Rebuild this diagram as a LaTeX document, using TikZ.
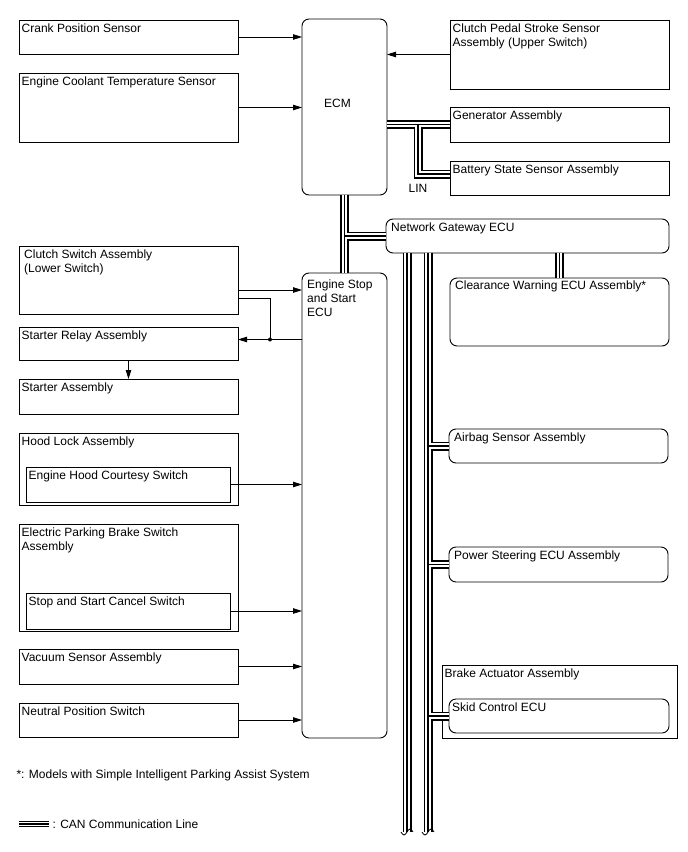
\documentclass[tikz,border=0pt]{standalone}
\usepackage{fontspec}
\setmainfont{Liberation Sans}
\usetikzlibrary{arrows.meta, calc}

\begin{document}
\begin{tikzpicture}[x=1bp, y=-1bp,
    font=\fontsize{12bp}{14bp}\selectfont,
    blk/.style={rectangle, draw, line width=0.9bp, outer sep=0pt, inner sep=0pt,
                minimum width=219bp, minimum height=#1},
    ecu/.style={blk=#1, rounded corners=7bp},
    txt/.style={anchor=north west, align=left, inner xsep=2.5bp, inner ysep=3.5bp},
    txtr/.style={txt, inner xsep=5bp},
    arrow/.style={-{Triangle[length=9bp, width=5.5bp]}, line width=0.8bp},
    wire/.style={line width=0.8bp},
    can/.style={draw=white, line width=5.5bp, preaction={draw=black, line width=9bp},
                postaction={draw=black, line width=1.6bp}},
    canlg/.style={draw=white, line width=3.4bp, preaction={draw=black, line width=6.5bp},
                postaction={draw=black, line width=1.2bp}},
    cut/.style={line width=0.8bp}
  ]
  \useasboundingbox (0,0) rectangle (688,852);

  % left column
  \node[blk=34bp, label={[txt]north west:Crank Position Sensor}] (crank) at (128.5,37) {};
  \node[blk=69bp, label={[txt]north west:Engine Coolant Temperature Sensor}] (coolant) at (128.5,107.5) {};
  \node[blk=68bp, label={[txt, inner xsep=5bp]north west:Clutch Switch Assembly\\(Lower Switch)}] (clutchsw) at (128.5,280) {};
  \node[blk=33bp, label={[txt]north west:Starter Relay Assembly}] (relay) at (128.5,343.5) {};
  \node[blk=35bp, label={[txt]north west:Starter Assembly}] (starter) at (128.5,396.5) {};
  \node[blk=72bp, label={[txt]north west:Hood Lock Assembly}] (hood) at (128.5,469) {};
  \node[blk=35bp, minimum width=204bp, label={[txt]north west:Engine Hood Courtesy Switch}] (hoodsw) at (128,484.5) {};
  \node[blk=107bp, label={[txt]north west:Electric Parking Brake Switch\\Assembly}] (epb) at (128.5,577.5) {};
  \node[blk=36bp, minimum width=204bp, label={[txt]north west:Stop and Start Cancel Switch}] (cancel) at (128,611) {};
  \node[blk=35bp, label={[txt]north west:Vacuum Sensor Assembly}] (vacuum) at (128.5,666.5) {};
  \node[blk=34bp, label={[txt]north west:Neutral Position Switch}] (neutral) at (128.5,720) {};

  % ECUs in the middle
  \node[ecu=176bp, minimum width=85bp, label={[xshift=-7bp, yshift=4bp]center:ECM}] (ecm) at (344.5,107) {};
  \node[ecu=465bp, minimum width=85bp, label={[txtr, inner ysep=7bp]north west:Engine Stop\\and Start\\ECU}] (ess) at (344.5,505.5) {};

  % right column
  \node[blk=69bp, label={[txt]north west:Clutch Pedal Stroke Sensor\\Assembly (Upper Switch)}] (cpss) at (559.5,54.5) {};
  \node[blk=35bp, label={[txt]north west:Generator Assembly}] (gen) at (559.5,124.5) {};
  \node[blk=34bp, label={[txt]north west:Battery State Sensor Assembly}] (batt) at (559.5,178) {};
  \node[ecu=34bp, minimum width=283bp, label={[txtr]north west:Network Gateway ECU}] (gw) at (527.5,236) {};
  \node[ecu=68bp, label={[txtr, inner ysep=2.5bp]north west:Clearance Warning ECU Assembly*}] (clear) at (559.5,312) {};
  \node[ecu=34bp, label={[txtr]north west:Airbag Sensor Assembly}] (airbag) at (558.5,446) {};
  \node[ecu=35bp, label={[txtr]north west:Power Steering ECU Assembly}] (ps) at (558.5,564.5) {};
  \node[blk=73bp, minimum width=235bp, label={[txt]north west:Brake Actuator Assembly}] (brake) at (559.5,701.5) {};
  \node[ecu=34bp, minimum width=220bp, label={[txtr, inner xsep=3bp]north west:Skid Control ECU}] (skid) at (559,716) {};

  % signal lines
  \draw[arrow] (crank.east) -- (crank.east -| ecm.west);
  \draw[arrow] (coolant.east) -- (coolant.east -| ecm.west);
  \draw[arrow] (cpss.west) -- (cpss.west -| ecm.east);
  \draw[arrow] ($(clutchsw.east)+(0,10)$) coordinate (cs1) -- (cs1 -| ess.west);
  \coordinate (rl) at ($(relay.east)+(0,-4)$);
  \coordinate (jn) at ($(rl)!0.5!(rl -| ess.west)$);
  \draw[arrow] (rl -| ess.west) -- (rl);
  \draw[wire] (jn) |- ($(clutchsw.east)+(0,18)$);
  \fill (jn) circle (2bp);
  \draw[arrow] (relay.south) -- (starter.north);
  \draw[arrow] (hoodsw.east) -- (hoodsw.east -| ess.west);
  \draw[arrow] (cancel.east) -- (cancel.east -| ess.west);
  \draw[arrow] (vacuum.east) -- (vacuum.east -| ess.west);
  \draw[arrow] (neutral.east) -- (neutral.east -| ess.west);

  % CAN / LIN lines
  \coordinate (lin) at (418,124.5);
  \draw[can] (ecm.east |- gen.west) -- (gen.west) (lin) |- ($(batt.west)+(0,-4)$);
  \node (lintxt) at (418,188) {LIN};
  \draw[can] (ecm.south) -- (ess.north) (ecm.south |- gw.west) -- (gw.west);
  \draw[can] (gw.south -| clear.north) -- (clear.north);
  \coordinate (b1) at (407,832);
  \coordinate (b2) at (428,832);
  \draw[can] (gw.south -| b1) -- (b1);
  \draw[can] (gw.south -| b2) -- (b2) (airbag.west -| b2) -- (airbag.west)
             (ps.west -| b2) -- (ps.west) (skid.west -| b2) -- (skid.west);
  \draw[cut] ($(b1)+(-6,0)$) sin ++(3,3) cos ++(3,-3) sin ++(3,-3) cos ++(3,3);
  \draw[cut] ($(b2)+(-6,0)$) sin ++(3,3) cos ++(3,-3) sin ++(3,-3) cos ++(3,3);

  % notes
  \node[anchor=west] (note) at (13,775) {*: Models with Simple Intelligent Parking Assist System};
  \coordinate (lg1) at (19,824);
  \coordinate (lg2) at (49,824);
  \draw[canlg] (lg1) -- (lg2);
  \node[anchor=west] (lgtxt) at (lg2) {: CAN Communication Line};
\end{tikzpicture}
\end{document}
